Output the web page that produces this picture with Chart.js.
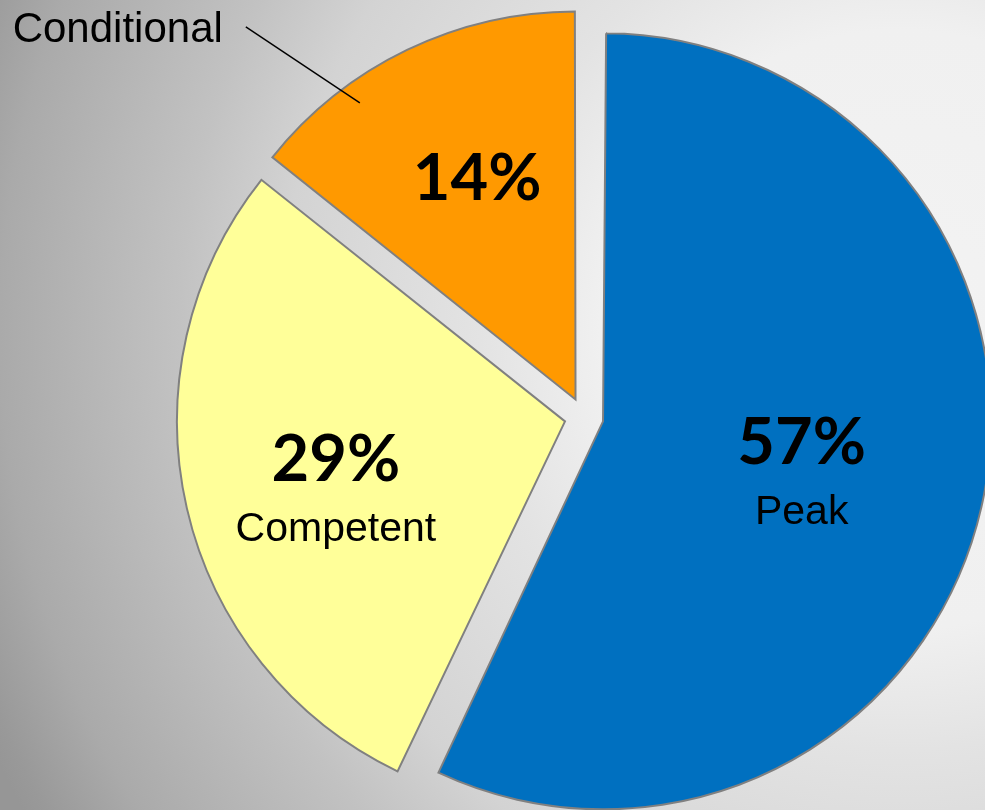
<!DOCTYPE html>
<html>
<head>
<meta charset="utf-8">
<title>Performance levels</title>
<script src="https://cdn.jsdelivr.net/npm/chart.js@4.4.1/dist/chart.umd.min.js"></script>
<style>
    html, body {
        margin: 0;
        padding: 0;
        width: 985px;
        height: 810px;
        overflow: hidden;
    }
    body {
        background: radial-gradient(circle 1000px at 900px 330px,
            #f3f3f3 0%, #f0f0f0 30%, #e3e3e3 42%, #d3d3d3 62%,
            #c2c2c2 72%, #aaaaaa 90%, #999999 98%, #969696 100%);
    }
    canvas { display: block; }
</style>
</head>
<body>
<canvas id="myChart" width="985" height="810"></canvas>
<script>
// data
var categories = ['Peak', 'Competent', 'Conditional'];
var shares = [57.1, 28.6, 14.3];
var sliceColors = ['#0070C0', '#FFFF99', '#FF9900'];

// styling / layout (not data)
var PIE_RADIUS = 388;
var EXPLODE = 78;                 // chart.js moves a slice by offset / 4
var labelDistance = [0.525, 0.606, 0.631];
var labelNudge = [[0, 9], [0, 18], [8, 0]];
var nameInside = [true, true, false];
var pctFont = 'bold 65px Lato';
var nameFont = '41px "Liberation Sans", Arial, sans-serif';

// chart.js grows big slices by offset*fix, undo it so every slice has the same radius
var equalRadius = {
    id: 'equalRadius',
    afterDatasetUpdate: function (chart, args) {
        args.meta.data.forEach(function (arc) {
            var off = (arc.options.offset || 0) / 4;
            var fix = 1 - Math.sin(Math.min(Math.PI, arc.circumference || 0));
            arc.outerRadius = PIE_RADIUS - off * fix;
        });
    }
};

var sliceLabels = {
    id: 'sliceLabels',
    afterDatasetsDraw: function (chart) {
        var ctx = chart.ctx;
        var arcs = chart.getDatasetMeta(0).data;
        var total = shares.reduce(function (a, b) { return a + b; }, 0);
        ctx.save();
        ctx.fillStyle = '#000';
        ctx.textAlign = 'center';
        ctx.textBaseline = 'alphabetic';
        arcs.forEach(function (arc, i) {
            var half = (arc.startAngle + arc.endAngle) / 2;
            var off = (arc.options.offset || 0) / 4;
            var tipX = arc.x + Math.cos(half) * off;
            var tipY = arc.y + Math.sin(half) * off;
            var ax = tipX + Math.cos(half) * labelDistance[i] * PIE_RADIUS + labelNudge[i][0];
            var ay = tipY + Math.sin(half) * labelDistance[i] * PIE_RADIUS + labelNudge[i][1];
            var pct = Math.round(shares[i] / total * 100) + '%';

            if (nameInside[i]) {
                ctx.font = pctFont;
                ctx.fillText(pct, ax, ay - 11);
                ctx.font = nameFont;
                ctx.fillText(categories[i], ax, ay + 49);
            } else {
                ctx.font = pctFont;
                ctx.fillText(pct, ax, ay + 21);

                // callout with leader line
                var ang = arc.startAngle + 0.3 * (arc.endAngle - arc.startAngle);
                var ex = tipX + Math.cos(ang) * 0.945 * PIE_RADIUS;
                var ey = tipY + Math.sin(ang) * 0.945 * PIE_RADIUS;
                var sx = ex - 114;
                var sy = ey - 76;
                ctx.beginPath();
                ctx.moveTo(sx, sy);
                ctx.lineTo(ex, ey);
                ctx.lineWidth = 1.5;
                ctx.strokeStyle = '#000';
                ctx.stroke();
                ctx.font = '42px "Liberation Sans", Arial, sans-serif';
                ctx.textAlign = 'right';
                ctx.fillText(categories[i], sx - 23, sy + 15);
                ctx.textAlign = 'center';
            }
        });
        ctx.restore();
    }
};

function drawChart() {
    var ctx = document.getElementById('myChart').getContext('2d');
    var myChart = new Chart(ctx, {
        type: 'pie',
        data: {
            labels: categories,
            datasets: [{
                data: shares,
                backgroundColor: sliceColors,
                borderColor: '#808080',
                borderWidth: 2,
                borderJoinStyle: 'miter',
                offset: EXPLODE,
                radius: PIE_RADIUS,
                clip: false
            }]
        },
        options: {
            responsive: false,
            animation: false,
            events: [],
            layout: {
                padding: { left: 183, right: 0, top: 24, bottom: 0 }
            },
            plugins: {
                legend: { display: false },
                tooltip: { enabled: false }
            }
        },
        plugins: [equalRadius, sliceLabels]
    });
}

Promise.all([
    document.fonts.load(pctFont),
    document.fonts.load(nameFont)
]).then(drawChart, drawChart);
</script>
</body>
</html>
